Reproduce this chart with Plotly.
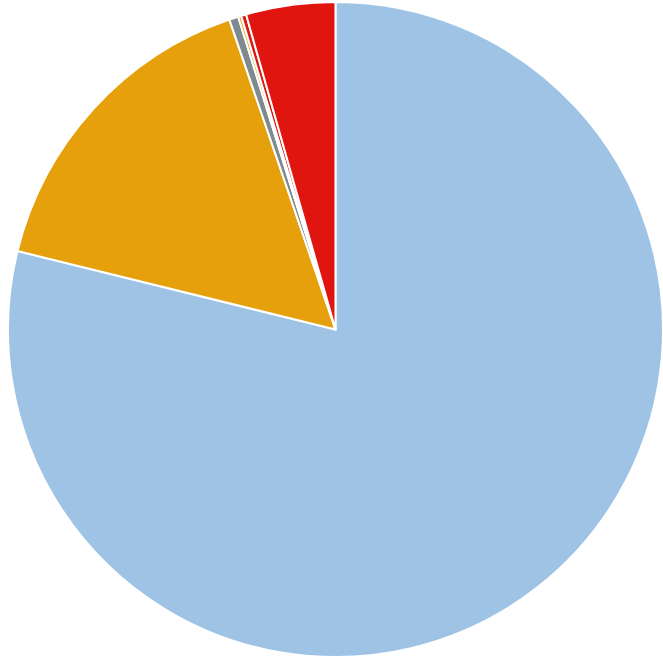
import plotly.graph_objects as go

# listed clockwise from 12 o'clock
labels = ["Blue", "Orange", "Gray", "Orange small", "Red small", "Red"]
values = [78.85, 15.9, 0.45, 0.15, 0.25, 4.4]
colors = ["#9fc3e5", "#e6a00c", "#7d8b90", "#e8a010", "#d81a14", "#e0150f"]

fig = go.Figure(go.Pie(
    labels=labels,
    values=values,
    sort=False,
    direction="clockwise",
    rotation=0,
    textinfo="none",
    hoverinfo="label+percent",
    marker=dict(colors=colors, line=dict(color="white", width=2)),
    domain=dict(x=[0.012, 1.0], y=[0.0, 1.0]),
))
fig.update_layout(
    width=663, height=659,
    margin=dict(l=0, r=0, t=0, b=0),
    showlegend=False,
    paper_bgcolor="white",
)
fig.write_html("out.html")
